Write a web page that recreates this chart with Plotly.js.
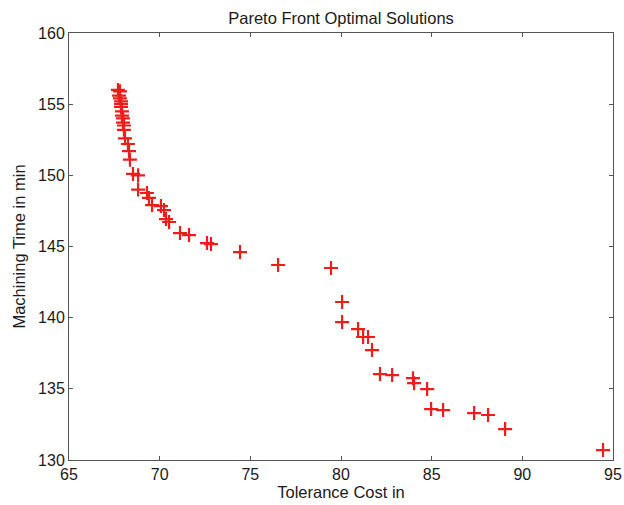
<!DOCTYPE html>
<html>
<head>
<meta charset="utf-8">
<script src="https://cdn.plot.ly/plotly-3.0.1.min.js"></script>
<style>html,body{margin:0;padding:0;background:#fff;}#chart{width:624px;height:505px;}</style>
</head>
<body>
<div id="chart"></div>
<script>
// Tolerance cost (x) values of Pareto front solutions
const toleranceCost = [
  67.70, 67.81, 67.76, 67.81, 67.87, 67.87, 67.87, 67.92, 67.92, 67.98, 67.98, 68.03, 68.03,
  68.09, 68.25, 68.31, 68.36, 68.53, 68.81, 68.81,
  69.30, 69.41, 69.58, 70.07, 70.24, 70.35, 70.52, 71.12, 71.62,
  72.61, 72.83, 74.43, 76.53,
  79.45, 80.06, 80.06, 80.94, 81.22, 81.49, 81.71, 82.15, 82.82, 83.97, 84.03, 84.75,
  84.97, 85.63, 87.34, 88.11, 89.05, 94.45
];
// Machining time (y) values of Pareto front solutions
const machiningTime = [
  156.0, 155.9, 155.6, 155.4, 155.2, 155.0, 154.8, 154.5, 154.2, 154.0, 153.7, 153.5, 153.2,
  152.6, 152.2, 151.7, 151.1, 150.1, 150.0, 149.0,
  148.76, 148.41, 147.91, 147.84, 147.56, 146.93, 146.72, 145.94, 145.80,
  145.24, 145.17, 144.61, 143.70,
  143.49, 141.10, 139.69, 139.20, 138.64, 138.64, 137.72, 136.04, 135.97, 135.75, 135.40, 134.98,
  133.58, 133.51, 133.30, 133.16, 132.17, 130.70
];
const xTicks = [65, 70, 75, 80, 85, 90, 95];
const yTicks = [130, 135, 140, 145, 150, 155, 160];

const trace = {
  x: toleranceCost,
  y: machiningTime,
  type: 'scatter',
  mode: 'markers',
  marker: {
    symbol: 'cross-thin-open',
    size: 10,
    color: '#f01c1c',
    line: {color: '#f01c1c', width: 2.2}
  },
  hoverinfo: 'x+y'
};

const axisCommon = {
  showgrid: false,
  zeroline: false,
  showline: true,
  linecolor: '#555',
  linewidth: 1,
  mirror: 'ticks',
  ticks: 'inside',
  ticklen: 4,
  tickcolor: '#555',
  tickfont: {family: 'Liberation Sans, Arial, sans-serif', size: 16, color: '#1a1a1a'}
};

const layout = {
  width: 624,
  height: 505,
  margin: {l: 69, r: 11, t: 33, b: 45},
  paper_bgcolor: '#fff',
  plot_bgcolor: '#fff',
  showlegend: false,
  font: {family: 'Liberation Sans, Arial, sans-serif', color: '#1a1a1a'},
  title: {
    text: 'Pareto Front Optimal Solutions',
    font: {size: 16.5, color: '#1a1a1a'},
    x: 0.5465, xanchor: 'center',
    y: 0.963, yanchor: 'middle'
  },
  xaxis: Object.assign({}, axisCommon, {
    range: [65, 95],
    tickvals: xTicks,
    ticktext: xTicks.map(String),
    title: {text: 'Tolerance Cost in', font: {size: 16.5, color: '#1a1a1a'}, standoff: 4}
  }),
  yaxis: Object.assign({}, axisCommon, {
    range: [130, 160],
    tickvals: yTicks,
    ticktext: yTicks.map(String),
    title: {text: 'Machining Time in min', font: {size: 16.5, color: '#1a1a1a'}, standoff: 8}
  })
};

Plotly.newPlot('chart', [trace], layout, {displayModeBar: false, staticPlot: true});
</script>
</body>
</html>
